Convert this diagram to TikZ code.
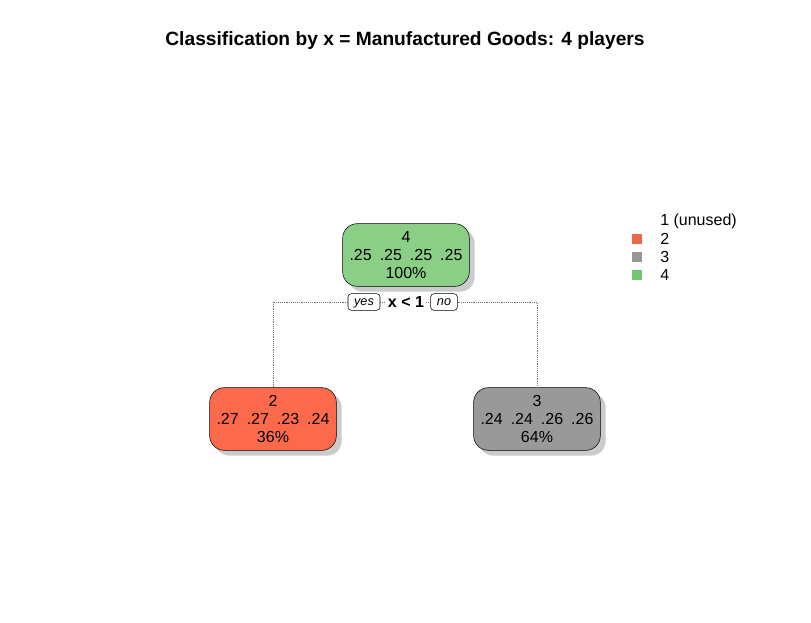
\documentclass[tikz,border=0pt]{standalone}
\usepackage{fontspec}
\setmainfont{Liberation Sans}
\usetikzlibrary{shadows}
\definecolor{leafgreen}{RGB}{139,206,134}
\definecolor{leafred}{RGB}{252,106,75}
\definecolor{leafgray}{RGB}{153,153,153}
\definecolor{keygreen}{RGB}{116,196,118}
\definecolor{keyred}{RGB}{239,104,78}
\definecolor{keygray}{RGB}{150,150,150}
\tikzset{
  treebox/.style={draw=black,fill=#1,rounded corners=11pt,thin,
    minimum width=95pt,minimum height=47pt,align=center,
    font=\fontsize{12}{13.5}\selectfont,inner sep=0pt,
    drop shadow={shadow xshift=4pt,shadow yshift=-4pt,fill=black!25,opacity=0.8}},
  treebox/.default=leafgreen,
  dirtag/.style={draw=black,fill=white,rounded corners=2.5pt,thin,
    font=\fontsize{9.5}{10}\selectfont\itshape,inner sep=0pt,
    minimum height=12.5pt,text depth=0pt},
  splitlbl/.style={fill=white,font=\fontsize{12}{13}\selectfont\bfseries,inner sep=1.5pt},
  split/.style={draw=black!55,densely dotted,thin},
  keysq/.style={fill=#1,minimum size=7pt,inner sep=0pt},
  keytxt/.style={anchor=west,font=\fontsize{12}{13}\selectfont,inner sep=0pt},
}
\begin{document}
\begin{tikzpicture}[x=0.75pt,y=-0.75pt]
  \useasboundingbox[fill=white] (0,0) rectangle (811,622);
  % title
  \node[font=\fontsize{14.4}{16}\selectfont\bfseries] (title) at (405,41)
    {Classification by x = Manufactured Goods: 4 players};
  % tree nodes
  \node[treebox=leafgreen] (root) at (406,255) {4\\.25\enspace.25\enspace.25\enspace.25\\100\%};
  \node[treebox=leafred] (n2) at (273,419) {2\\.27\enspace.27\enspace.23\enspace.24\\36\%};
  \node[treebox=leafgray] (n3) at (537,419) {3\\.24\enspace.24\enspace.26\enspace.26\\64\%};
  % split
  \node[splitlbl] (lbl) at (406,302) {x < 1};
  \node[dirtag,minimum width=24pt] (yes) at (364,302) {yes};
  \node[dirtag,minimum width=20pt] (no) at (444,302) {no};
  \draw[split] (yes.west) -| (n2.north);
  \draw[split] (no.east) -| (n3.north);
  \draw[split] (yes.east) -- (lbl.west);
  \draw[split] (lbl.east) -- (no.west);
  % legend
  \node[keytxt] (k1) at (660,221) {1 (unused)};
  \foreach \n/\c [count=\i] in {2/keyred,3/keygray,4/keygreen}{
    \node[keysq=\c] (sq\n) at (637,221+18*\i) {};
    \node[keytxt] (k\n) at (660,221+18*\i) {\n};
  }
\end{tikzpicture}
\end{document}
